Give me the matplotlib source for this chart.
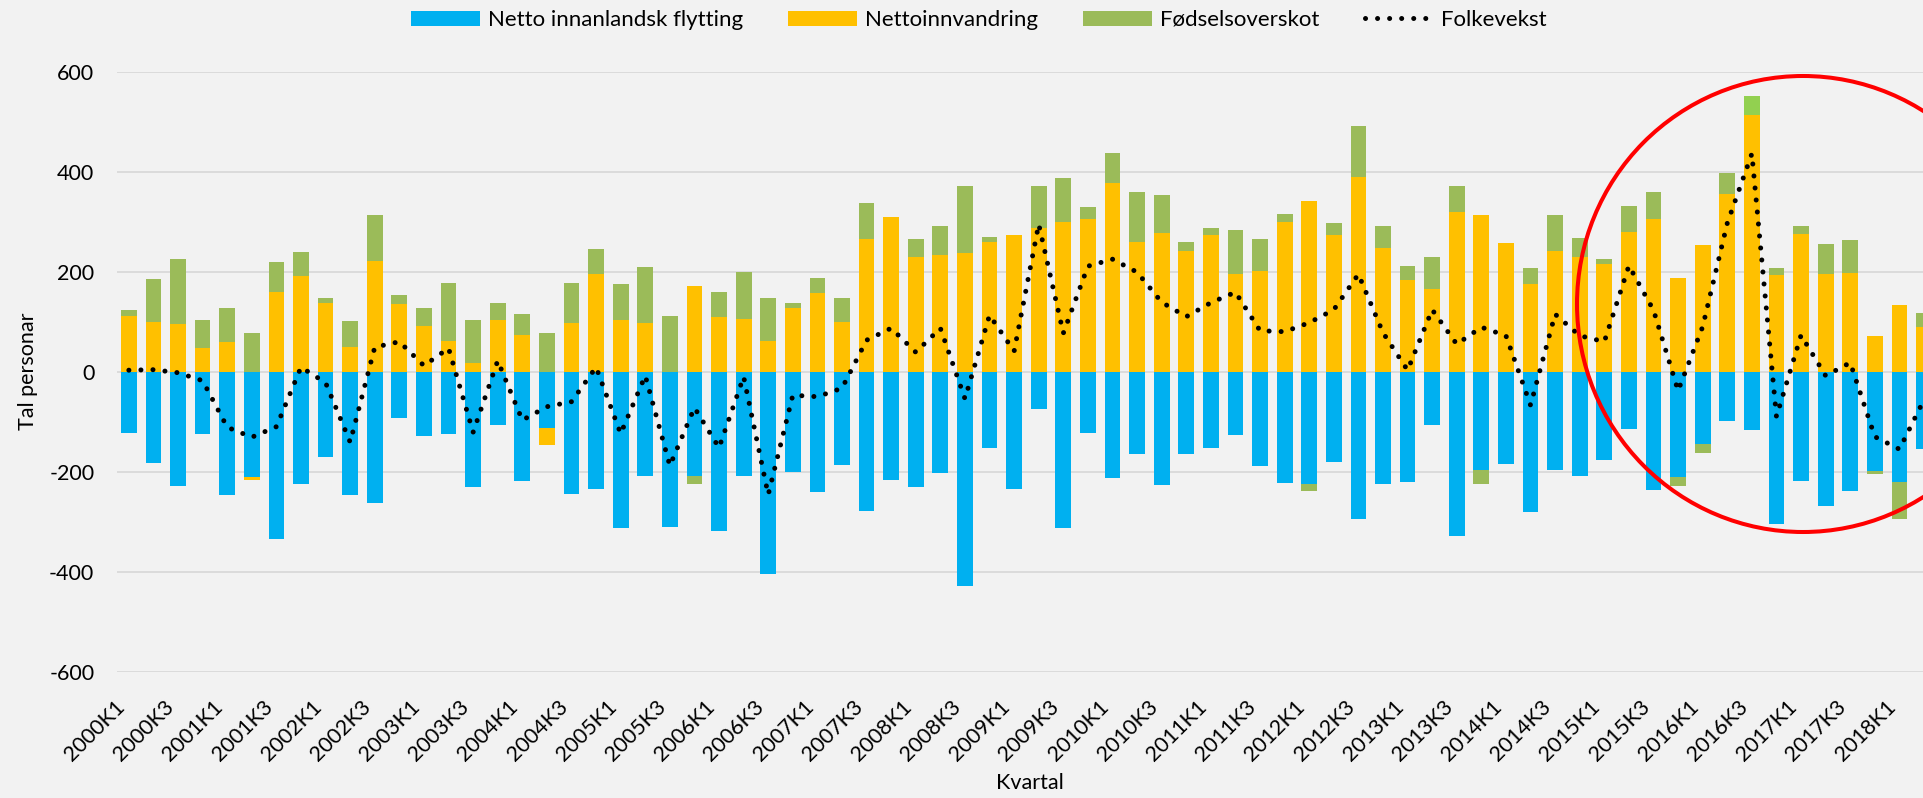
import matplotlib
matplotlib.use('Agg')
import matplotlib.pyplot as plt
import numpy as np
from matplotlib.patches import Patch, Ellipse
from matplotlib.lines import Line2D

plt.rcParams['font.family'] = ['Lato', 'DejaVu Sans']
plt.rcParams['axes.unicode_minus'] = False

# ---------------- data ----------------
kvartal = [f"{y}K{q}" for y in range(2000, 2019) for q in range(1, 5)][:74]

netto_innanlandsk = [
    -122, -183, -229, -125, -246, -211, -335, -225, -170, -246, -262, -92,
    -128, -125, -230, -107, -219, -112, -245, -235, -312, -208, -310, -208,
    -319, -209, -405, -200, -241, -186, -279, -217, -230, -203, -428, -152,
    -235, -75, -313, -123, -213, -165, -227, -165, -152, -126, -189, -222,
    -225, -181, -295, -225, -221, -107, -328, -196, -184, -281, -197, -208,
    -177, -115, -237, -210, -145, -99, -117, -305, -218, -268, -238, -198,
    -220, -155]

nettoinnvandring = [
    111, 100, 95, 48, 59, -5, 160, 191, 137, 49, 221, 136,
    92, 62, 17, 103, 74, -35, 98, 195, 103, 98, 0, 171,
    109, 105, 62, 127, 158, 99, 266, 310, 229, 234, 238, 259,
    273, 288, 300, 305, 377, 259, 278, 241, 273, 195, 202, 300,
    341, 273, 390, 248, 183, 165, 320, 313, 257, 175, 241, 229,
    216, 279, 305, 187, 253, 356, 513, 193, 275, 196, 198, 72,
    133, 89]

fodselsoverskot = [
    12, 85, 130, 55, 68, 77, 59, 48, 11, 52, 92, 17,
    35, 116, 86, 34, 41, 77, 80, 51, 72, 111, 111, -17,
    50, 94, 86, 10, 29, 49, 71, 0, 36, 57, 134, 10,
    0, 83, 87, 25, 61, 100, 75, 18, 15, 88, 63, 15,
    -13, 24, 102, 43, 29, 64, 52, -29, 1, 32, 72, 38,
    9, 53, 54, -19, -17, 41, 39, 15, 16, 59, 65, -7,
    -75, 28]

folkevekst = [
    3, 4, -2, -18, -111, -131, -110, 9, -22, -141, 49, 60,
    12, 47, -121, 22, -97, -70, -60, 9, -124, -8, -188, -72,
    -152, -10, -246, -47, -50, -33, 63, 87, 39, 87, -54, 113,
    41, 295, 77, 211, 225, 199, 139, 110, 138, 159, 82, 80,
    98, 124, 195, 78, 3, 124, 55, 89, 72, -67, 115, 72,
    60, 212, 123, -38, 90, 297, 436, -90, 73, -8, 18, -130,
    -155, -56]

highlight = "2016K3"
series_names = ["Netto innanlandsk flytting", "Nettoinnvandring",
                "Fødselsoverskot", "Folkevekst"]

# ---------------- styling ----------------
BG = '#F2F2F2'
C_BLUE, C_YEL, C_GRN, C_HL = '#00B0F0', '#FFC000', '#9BBB59', '#92D050'
W, H = 1924, 798
FS = 15.5

fig = plt.figure(figsize=(W / 100, H / 100), dpi=100, facecolor=BG)
ax = fig.add_axes([116.56 / W, (H - 671.7) / H, (W - 116.56) / W, 600 / H])
ax.set_facecolor(BG)

x = np.arange(len(kvartal))
blue = np.array(netto_innanlandsk, dtype=float)
yel = np.array(nettoinnvandring, dtype=float)
grn = np.array(fodselsoverskot, dtype=float)

yel_bottom = np.where(yel >= 0, 0, blue)
grn_bottom = np.where(grn >= 0, np.maximum(yel, 0), blue + np.minimum(yel, 0))

bw = 0.64
ax.bar(x, blue, bw, color=C_BLUE, zorder=2)
ax.bar(x, yel, bw, bottom=yel_bottom, color=C_YEL, zorder=2)
grn_colors = [C_HL if k == highlight else C_GRN for k in kvartal]
ax.bar(x, grn, bw, bottom=grn_bottom, color=grn_colors, zorder=2)

dot_style = (0, (0.01, 2.4))
ax.plot(x, folkevekst, color='black', lw=3.6, linestyle=dot_style,
        dash_capstyle='round', zorder=3)

ax.set_xlim(-0.5, 73.0)
ax.set_ylim(-600, 600)
ax.set_yticks(range(-600, 601, 200))
ax.grid(axis='y', color='#D9D9D9', lw=1.3, zorder=0)
ax.set_axisbelow(True)
for s in ax.spines.values():
    s.set_visible(False)
ax.tick_params(axis='y', length=0, pad=16, labelsize=FS, labelcolor='black')
ax.set_xticks(x[::2])
ax.set_xticklabels(kvartal[::2], rotation=45, ha='right', va='top')
ax.tick_params(axis='x', length=0, pad=18, labelsize=FS, labelcolor='black')

fig.text(28 / W, 1 - 371.7 / H, 'Tal personar', rotation=90, ha='center',
         va='center', fontsize=FS)
fig.text(1030 / W, 1 - 783 / H, 'Kvartal', ha='center', va='center', fontsize=FS)

fig.add_artist(Ellipse((1803 / W, 1 - 304 / H), 452 / W, 456 / H,
                       transform=fig.transFigure, fill=False, ec='#FF0000',
                       lw=2.9, zorder=10))

handles = [Patch(facecolor=C_BLUE, edgecolor='none'),
           Patch(facecolor=C_YEL, edgecolor='none'),
           Patch(facecolor=C_GRN, edgecolor='none'),
           Line2D([], [], color='black', lw=3.6, linestyle=dot_style,
                  dash_capstyle='round')]
LFS = 16
fig.legend(handles, series_names, loc='center', bbox_to_anchor=(979 / W, 1 - 20 / H),
           ncol=4, frameon=False, fontsize=LFS, handlelength=69 / (LFS / 0.72),
           handleheight=0.7 * 15 / LFS, handletextpad=0.33, columnspacing=2.05,
           borderaxespad=0, borderpad=0)

fig.savefig('out.png', dpi=100, facecolor=BG)
